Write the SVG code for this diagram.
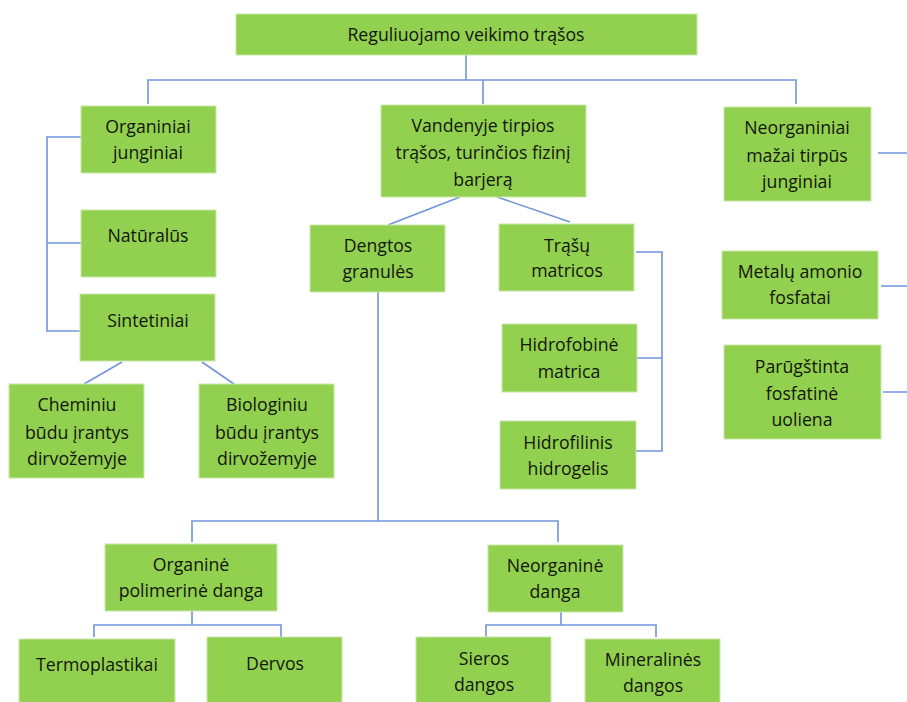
<svg xmlns="http://www.w3.org/2000/svg" width="907" height="702" viewBox="0 0 907 702">
<style>
.box{fill:#92D050;stroke:#c9e8a9;stroke-width:1}
.t{font-family:"Open Sans","Liberation Sans",sans-serif;font-size:17.7px;fill:#12160c;text-anchor:middle}
.c{fill:none;stroke:#7095DA;stroke-width:1.6}
</style>
<rect width="907" height="702" fill="#fff"/>
<g id="connectors">
<path class="c" d="M466 55V80M148 104V80H796V104M483 80V104"/>
<path class="c" d="M81 137H47V331H80M47 243H81"/>
<path class="c" d="M122 362L84 384M202 362L234 384"/>
<path class="c" d="M460 197L388 225M497 197L570 222"/>
<path class="c" d="M636 252H662V451H636M636 358H662"/>
<path class="c" d="M878 153H907M881 286H907M883 392H907"/>
<path class="c" d="M378 292V521M192 542V521H558V542"/>
<path class="c" d="M192 611V625M94 637V625H281V637"/>
<path class="c" d="M561 612V625M486 637V625H656V637"/>
</g>
<g id="n-root"><rect class="box" x="236" y="14" width="461" height="41"/><text class="t" x="466" y="40.5">Reguliuojamo veikimo trąšos</text></g>
<g id="n-organiniai"><rect class="box" x="81" y="106" width="135" height="67"/><text class="t" x="148" y="132.5">Organiniai</text><text class="t" x="148" y="158.5">junginiai</text></g>
<g id="n-vandenyje"><rect class="box" x="381" y="105" width="205" height="92"/><text class="t" x="483" y="131.5">Vandenyje tirpios</text><text class="t" x="483" y="158.5">trąšos, turinčios fizinį</text><text class="t" x="483" y="185.5">barjerą</text></g>
<g id="n-neorganiniai"><rect class="box" x="724" y="107" width="147" height="94"/><text class="t" x="797" y="133.5">Neorganiniai</text><text class="t" x="797" y="161.5">mažai tirpūs</text><text class="t" x="797" y="187.5">junginiai</text></g>
<g id="n-naturalus"><rect class="box" x="81" y="210" width="135" height="67"/><text class="t" x="148" y="241.5">Natūralūs</text></g>
<g id="n-sintetiniai"><rect class="box" x="80" y="294" width="135" height="67"/><text class="t" x="148" y="326.5">Sintetiniai</text></g>
<g id="n-cheminiu"><rect class="box" x="9" y="384" width="135" height="94"/><text class="t" x="77" y="410.5">Cheminiu</text><text class="t" x="77" y="438.5">būdu įrantys</text><text class="t" x="77" y="464.5">dirvožemyje</text></g>
<g id="n-biologiniu"><rect class="box" x="199" y="384" width="135" height="94"/><text class="t" x="267" y="410.5">Biologiniu</text><text class="t" x="267" y="438.5">būdu įrantys</text><text class="t" x="267" y="464.5">dirvožemyje</text></g>
<g id="n-dengtos"><rect class="box" x="310" y="225" width="135" height="67"/><text class="t" x="378" y="251.5">Dengtos</text><text class="t" x="378" y="277.5">granulės</text></g>
<g id="n-matricos"><rect class="box" x="499" y="224" width="135" height="67"/><text class="t" x="567" y="251.5">Trąšų</text><text class="t" x="567" y="276.5">matricos</text></g>
<g id="n-hidrofobine"><rect class="box" x="502" y="324" width="135" height="68"/><text class="t" x="569" y="350.5">Hidrofobinė</text><text class="t" x="569" y="377.5">matrica</text></g>
<g id="n-hidrofilinis"><rect class="box" x="500" y="421" width="136" height="68"/><text class="t" x="568" y="448.5">Hidrofilinis</text><text class="t" x="568" y="474.5">hidrogelis</text></g>
<g id="n-metalu"><rect class="box" x="722" y="251" width="156" height="68"/><text class="t" x="800" y="277.5">Metalų amonio</text><text class="t" x="800" y="303.5">fosfatai</text></g>
<g id="n-parugstinta"><rect class="box" x="724" y="345" width="157" height="94"/><text class="t" x="802" y="372.5">Parūgštinta</text><text class="t" x="802" y="399.5">fosfatinė</text><text class="t" x="802" y="425.5">uoliena</text></g>
<g id="n-organine"><rect class="box" x="105" y="544" width="172" height="67"/><text class="t" x="191" y="570.5">Organinė</text><text class="t" x="191" y="596.5">polimerinė danga</text></g>
<g id="n-neorganine"><rect class="box" x="488" y="545" width="135" height="67"/><text class="t" x="555" y="571.5">Neorganinė</text><text class="t" x="555" y="597.5">danga</text></g>
<g id="n-termoplastikai"><rect class="box" x="19" y="639" width="156" height="70"/><text class="t" x="97" y="670.5">Termoplastikai</text></g>
<g id="n-dervos"><rect class="box" x="207" y="637" width="135" height="72"/><text class="t" x="275" y="669.5">Dervos</text></g>
<g id="n-sieros"><rect class="box" x="416" y="637" width="135" height="72"/><text class="t" x="484" y="664.5">Sieros</text><text class="t" x="484" y="690.5">dangos</text></g>
<g id="n-mineralines"><rect class="box" x="585" y="639" width="135" height="70"/><text class="t" x="653" y="665.5">Mineralinės</text><text class="t" x="653" y="691.5">dangos</text></g>
</svg>
